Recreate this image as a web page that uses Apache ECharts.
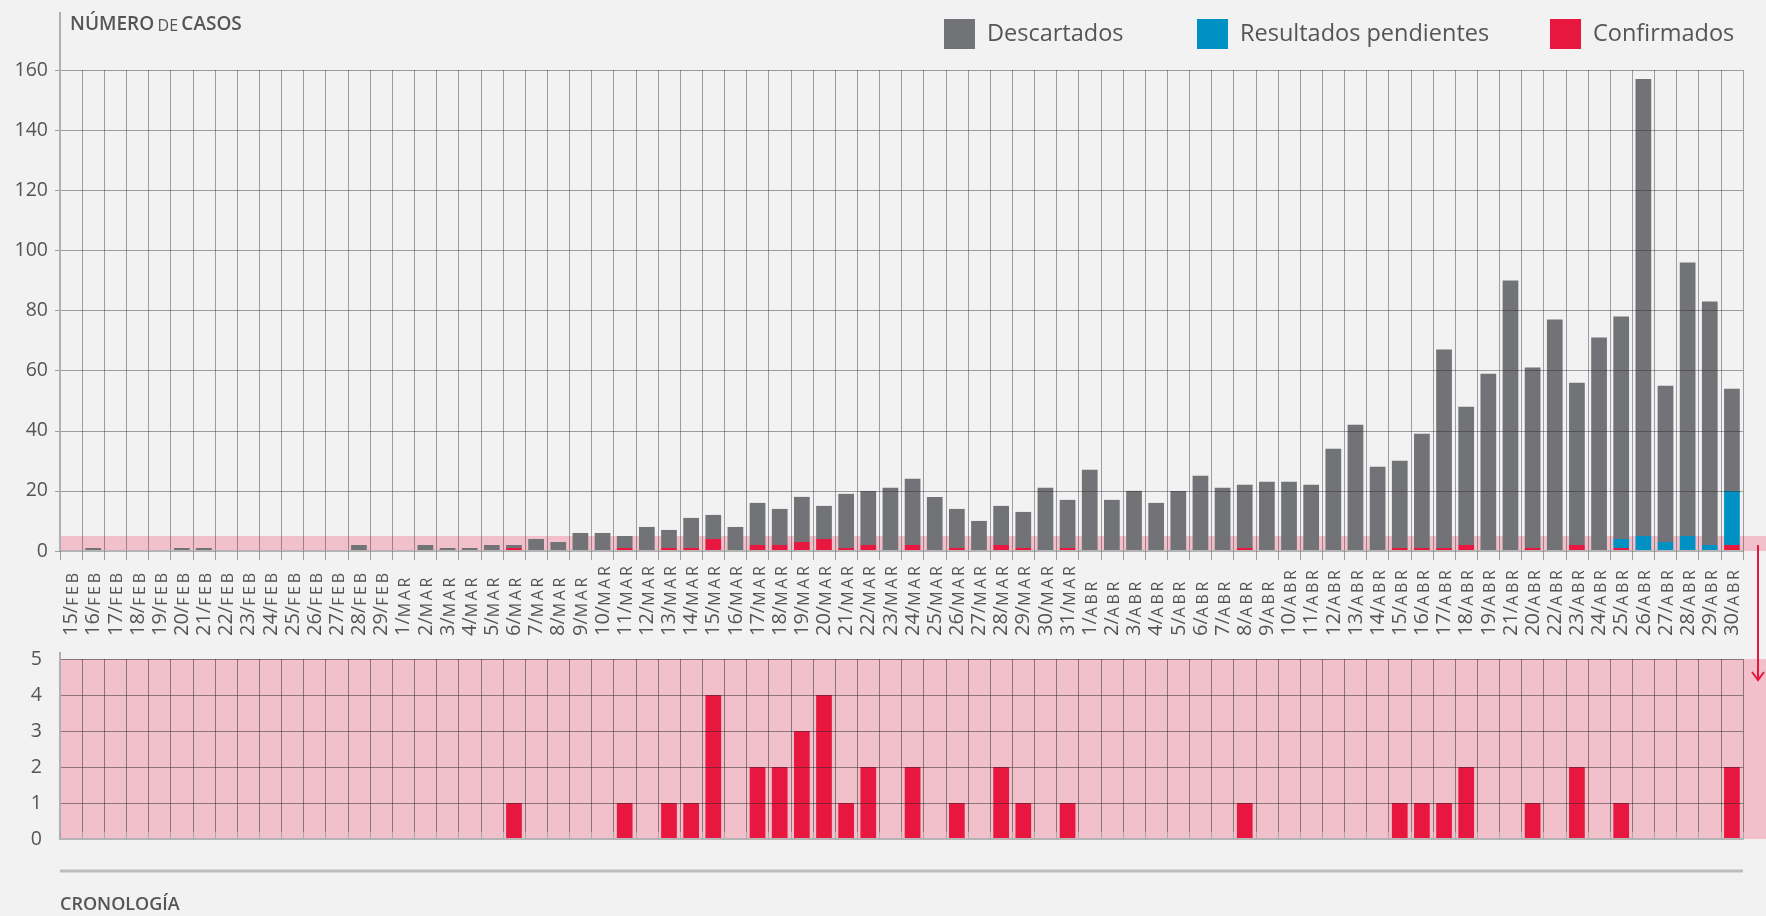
<!DOCTYPE html>
<html>
<head>
<meta charset="utf-8">
<script src="https://cdn.jsdelivr.net/npm/echarts@6/dist/echarts.min.js"></script>
<style>
html,body{margin:0;padding:0;background:#f1f2f1}
#main{width:1766px;height:916px}
</style>
</head>
<body>
<div id="main"></div>
<script>
// etiquetas del eje (tal como aparecen, 20 y 21/ABR invertidos)
var dates = ['15/FEB','16/FEB','17/FEB','18/FEB','19/FEB','20/FEB','21/FEB','22/FEB','23/FEB','24/FEB',
  '25/FEB','26/FEB','27/FEB','28/FEB','29/FEB','1/MAR','2/MAR','3/MAR','4/MAR','5/MAR',
  '6/MAR','7/MAR','8/MAR','9/MAR','10/MAR','11/MAR','12/MAR','13/MAR','14/MAR','15/MAR',
  '16/MAR','17/MAR','18/MAR','19/MAR','20/MAR','21/MAR','22/MAR','23/MAR','24/MAR','25/MAR',
  '26/MAR','27/MAR','28/MAR','29/MAR','30/MAR','31/MAR','1/ABR','2/ABR','3/ABR','4/ABR',
  '5/ABR','6/ABR','7/ABR','8/ABR','9/ABR','10/ABR','11/ABR','12/ABR','13/ABR','14/ABR',
  '15/ABR','16/ABR','17/ABR','18/ABR','19/ABR','21/ABR','20/ABR','22/ABR','23/ABR','24/ABR',
  '25/ABR','26/ABR','27/ABR','28/ABR','29/ABR','30/ABR'];

var confirmados = [0,0,0,0,0,0,0,0,0,0, 0,0,0,0,0,0,0,0,0,0,
  1,0,0,0,0,1,0,1,1,4, 0,2,2,3,4,1,2,0,2,0,
  1,0,2,1,0,1,0,0,0,0, 0,0,0,1,0,0,0,0,0,0,
  1,1,1,2,0,0,1,0,2,0, 1,0,0,0,0,2];

var pendientes = [0,0,0,0,0,0,0,0,0,0, 0,0,0,0,0,0,0,0,0,0,
  0,0,0,0,0,0,0,0,0,0, 0,0,0,0,0,0,0,0,0,0,
  0,0,0,0,0,0,0,0,0,0, 0,0,0,0,0,0,0,0,0,0,
  0,0,0,0,0,0,0,0,0,0, 3,5,3,5,2,18];

var descartados = [0,1,0,0,0,1,1,0,0,0, 0,0,0,2,0,0,2,1,1,2,
  1,4,3,6,6,4,8,6,10,8, 8,14,12,15,11,18,18,21,22,18,
  13,10,13,12,21,16,27,17,20,16, 20,25,21,21,23,23,22,34,42,28,
  29,38,66,46,59,90,60,77,54,71, 74,152,52,91,81,34];

var yTicksTop = [0, 160, 20];
var yTicksBottom = [0, 5, 1];

var font = '"Open Sans", "Noto Sans", sans-serif';
var gris = '#727377', azul = '#0091c4', rojo = '#e8173f', rosa = '#f2c0cb';
var linea = 'rgba(40,40,40,0.42)';
var lineaRosa = 'rgba(40,40,40,0.5)';
var texto = '#555';

var chart = echarts.init(document.getElementById('main'));

function leyenda(nombre, x) {
  return {
    left: x, top: 14,
    icon: 'rect',
    itemWidth: 31, itemHeight: 30,
    data: [nombre],
    textStyle: {fontSize: 23.5, color: texto, fontFamily: font, padding: [0, 0, 0, 7]}
  };
}

var option = {
  backgroundColor: '#f1f2f1',
  animation: false,
  textStyle: {fontFamily: font},
  legend: [
    leyenda('Descartados', 939),
    leyenda('Resultados pendientes', 1192),
    leyenda('Confirmados', 1545)
  ],
  grid: [
    {left: 60, right: 23, top: 70, height: 481},
    {left: 60, right: 23, top: 659, height: 180, show: true, backgroundColor: rosa, borderWidth: 0}
  ],
  xAxis: [
    {
      gridIndex: 0, type: 'category', data: dates, z: 4,
      axisLine: {lineStyle: {color: '#b4b4b4', width: 2}},
      axisTick: {show: true, interval: 0, length: 9, lineStyle: {color: linea}},
      splitLine: {show: true, interval: 0, lineStyle: {color: linea, width: 1}},
      axisLabel: {
        interval: 0, rotate: 90, margin: 85, align: 'left',
        formatter: function (v) {
          var p = v.split('/');
          return '{n|' + p[0] + '/}{m|' + p[1].split('').join('\u2009') + '}';
        },
        rich: {
          n: {fontSize: 20, color: texto, fontFamily: font, verticalAlign: 'bottom', lineHeight: 21},
          m: {fontSize: 16, color: texto, fontFamily: font, verticalAlign: 'bottom', lineHeight: 21}
        }
      }
    },
    {
      gridIndex: 1, type: 'category', data: dates, position: 'top', z: 4,
      axisLine: {show: false},
      axisTick: {show: true, interval: 0, length: 7, lineStyle: {color: '#a8a8a8'}},
      splitLine: {show: true, interval: 0, lineStyle: {color: lineaRosa, width: 1}},
      axisLabel: {show: false}
    },
    {
      gridIndex: 1, type: 'category', data: dates, position: 'bottom', z: 4,
      axisLine: {show: true, lineStyle: {color: '#b4b4b4', width: 2}},
      axisTick: {show: false},
      axisLabel: {show: false}
    }
  ],
  yAxis: [
    {
      gridIndex: 0, type: 'value', min: yTicksTop[0], max: yTicksTop[1], interval: yTicksTop[2], z: 4,
      axisLine: {show: true, lineStyle: {color: '#b0b0b0', width: 2}},
      axisTick: {show: true, length: 5, lineStyle: {color: '#a0a0a0'}},
      splitLine: {lineStyle: {color: linea, width: 1}},
      axisLabel: {fontSize: 19.5, color: texto, margin: 12, fontFamily: font}
    },
    {
      gridIndex: 1, type: 'value', min: yTicksBottom[0], max: yTicksBottom[1], interval: yTicksBottom[2], z: 4,
      axisLine: {show: true, lineStyle: {color: '#b0b0b0', width: 2}},
      axisTick: {show: false},
      splitLine: {lineStyle: {color: lineaRosa, width: 1}},
      axisLabel: {fontSize: 19.5, color: texto, margin: 18, fontFamily: font}
    }
  ],
  series: [
    {
      name: 'Confirmados', type: 'bar', stack: 'casos', xAxisIndex: 0, yAxisIndex: 0,
      data: confirmados, barCategoryGap: '29%',
      itemStyle: {color: rojo},
      markArea: {
        silent: true,
        itemStyle: {color: rosa},
        data: [[{yAxis: 0}, {yAxis: 5}]]
      }
    },
    {
      name: 'Resultados pendientes', type: 'bar', stack: 'casos', xAxisIndex: 0, yAxisIndex: 0,
      data: pendientes, barCategoryGap: '29%',
      itemStyle: {color: azul}
    },
    {
      name: 'Descartados', type: 'bar', stack: 'casos', xAxisIndex: 0, yAxisIndex: 0,
      data: descartados, barCategoryGap: '29%',
      itemStyle: {color: gris}
    },
    {
      name: 'Confirmados', type: 'bar', xAxisIndex: 2, yAxisIndex: 1,
      data: confirmados, barCategoryGap: '29%',
      itemStyle: {color: rojo}
    }
  ]
};

chart.setOption(option);

// decoraciones: banda rosa que sale del gráfico, flecha, títulos
var x1 = chart.convertToPixel({xAxisIndex: 0}, dates[dates.length - 1]) + 11;
var yTop0 = chart.convertToPixel({yAxisIndex: 0}, 0);
var yTop5 = chart.convertToPixel({yAxisIndex: 0}, 5);
var yTop160 = chart.convertToPixel({yAxisIndex: 0}, 160);
var yBot0 = chart.convertToPixel({yAxisIndex: 1}, 0);
var yBot5 = chart.convertToPixel({yAxisIndex: 1}, 5);
var ax = 60;
var flechaX = 1758;

chart.setOption({
  graphic: [
    {type: 'rect', shape: {x: x1, y: yTop5, width: 1766 - x1, height: yTop0 - yTop5}, style: {fill: rosa}, z: 0, silent: true},
    {type: 'rect', shape: {x: x1, y: yBot5, width: 1766 - x1, height: yBot0 - yBot5}, style: {fill: rosa}, z: 0, silent: true},
    {type: 'line', shape: {x1: ax, y1: 12, x2: ax, y2: yTop160}, style: {stroke: '#b0b0b0', lineWidth: 2}, z: 5},
    {type: 'line', shape: {x1: ax, y1: yBot5 - 7, x2: ax, y2: yBot5}, style: {stroke: '#b0b0b0', lineWidth: 2}, z: 5},
    {type: 'line', shape: {x1: flechaX, y1: yTop0 - 6, x2: flechaX, y2: 680}, style: {stroke: rojo, lineWidth: 2}, z: 6},
    {type: 'polyline', shape: {points: [[flechaX - 6, 672], [flechaX, 680], [flechaX + 6, 672]]}, style: {stroke: rojo, lineWidth: 2, fill: null}, z: 6},
    {type: 'line', shape: {x1: ax, y1: 871, x2: x1, y2: 871}, style: {stroke: '#bdbdbd', lineWidth: 3}, z: 5},
    {
      type: 'text', left: 70, top: 15, z: 6,
      style: {
        text: '{b|NÚMERO} {s|DE} {b|CASOS}',
        rich: {
          b: {fontSize: 19, fontWeight: 600, fill: texto, fontFamily: font, verticalAlign: 'bottom', lineHeight: 22},
          s: {fontSize: 16, fontWeight: 400, fill: texto, fontFamily: font, verticalAlign: 'bottom', lineHeight: 22}
        }
      }
    },
    {
      type: 'text', left: 60, top: 896, z: 6,
      style: {text: 'CRONOLOGÍA', fontSize: 18, fontWeight: 600, fill: texto, fontFamily: font}
    }
  ]
});
</script>
</body>
</html>
